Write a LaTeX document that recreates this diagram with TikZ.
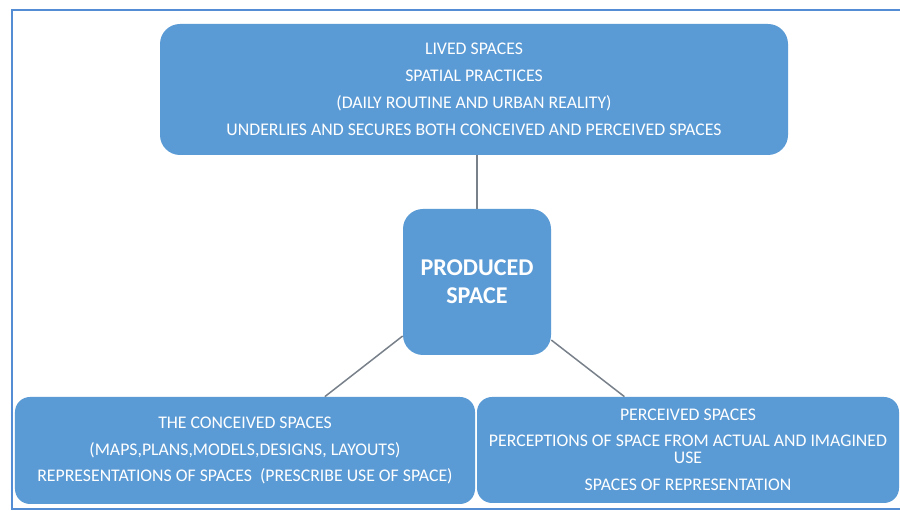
\documentclass[tikz,border=0pt]{standalone}
\usepackage{fontspec}
\setmainfont{Carlito}
\usepackage{tikz}

\definecolor{boxblue}{RGB}{91,155,213}
\definecolor{frameblue}{RGB}{84,141,212}
\definecolor{linkgray}{RGB}{120,128,138}

\begin{document}
\begin{tikzpicture}
		\tikzstyle{block}=[shape=rectangle,fill=boxblue,text=white,align=center,inner sep=0pt,font=\fontsize{10.1}{11}\selectfont]
		\tikzstyle{link}=[draw=linkgray,line width=0.85pt]

		\useasboundingbox (0,0) rectangle (18,10.22);
		\fill[white] (0,0) rectangle (18,10.22);
		\draw[frameblue,line width=1.4pt] (18,10.02) -- (0.24,10.02) -- (0.24,0.04) -- (18,0.04);

		\node[block,rounded corners=0.4cm,minimum width=12.56cm,minimum height=2.62cm](lived) at (9.48,8.43){LIVED SPACES\\[0.15cm]SPATIAL PRACTICES\\[0.15cm](DAILY ROUTINE AND URBAN REALITY)\\[0.15cm]UNDERLIES AND SECURES BOTH CONCEIVED AND PERCEIVED SPACES};

		\node[block,rounded corners=0.4cm,minimum width=2.96cm,minimum height=2.92cm,font=\fontsize{13.7}{16}\selectfont\bfseries](prod) at (9.54,4.58){PRODUCED\\SPACE};

		\node[block,rounded corners=0.3cm,minimum width=9.2cm,minimum height=2.14cm](conc) at (4.9,1.21){THE CONCEIVED SPACES\\[0.15cm](MAPS,PLANS,MODELS,DESIGNS, LAYOUTS)\\[0.15cm]REPRESENTATIONS OF SPACES~~(PRESCRIBE USE OF SPACE)};

		\node[block,rounded corners=0.3cm,minimum width=8.44cm,minimum height=2.12cm](perc) at (13.76,1.22){PERCEIVED SPACES\\[0.13cm]PERCEPTIONS OF SPACE FROM ACTUAL AND IMAGINED\\[-0.05cm]USE\\[0.17cm]SPACES OF REPRESENTATION};

		\draw[link] (prod.north) -- (prod.north |- lived.south);
		\draw[link] (prod.216) -- (conc.34);
		\draw[link] (prod.-38) -- (perc.140);
	\end{tikzpicture}
\end{document}
